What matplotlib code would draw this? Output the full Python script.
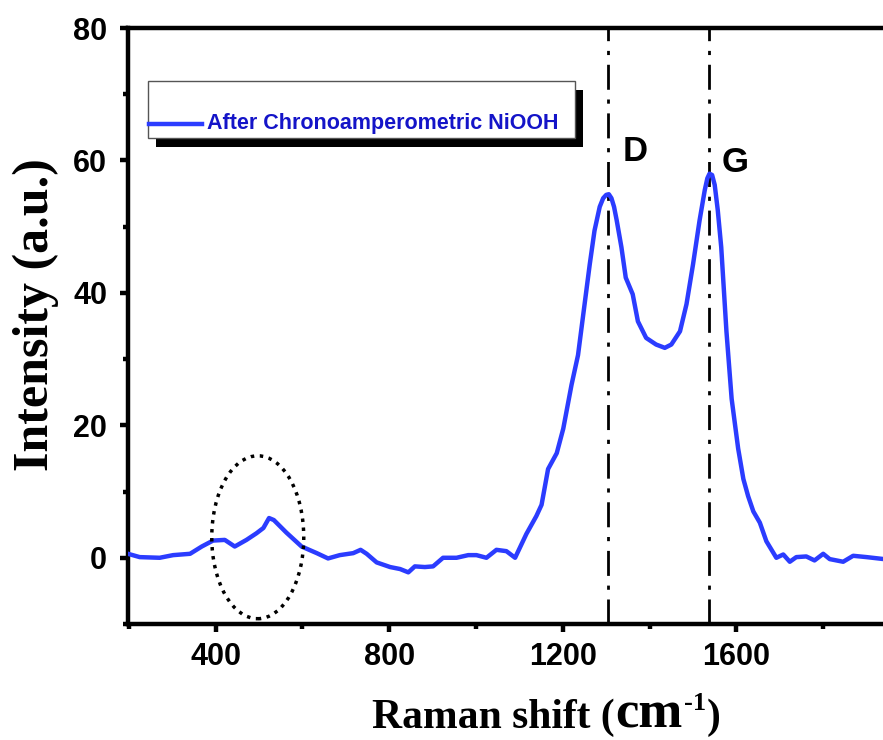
import matplotlib
matplotlib.use("Agg")
import matplotlib.pyplot as plt
from matplotlib.patches import Ellipse, Rectangle
from matplotlib.lines import Line2D
from matplotlib.ticker import MultipleLocator

# Raman spectrum
shift = [198, 225, 271, 302, 341, 368, 394, 421, 444, 471, 494, 510, 523, 534,
         563, 598, 633, 659, 686, 717, 734, 748, 771, 802, 825, 844, 859, 882,
         901, 924, 955, 982, 1001, 1024, 1047, 1070, 1090, 1116, 1139, 1151,
         1166, 1186, 1201, 1220, 1235, 1247, 1262, 1273, 1285, 1293, 1300, 1306,
         1312, 1318, 1324, 1335, 1345, 1361, 1373, 1392, 1415, 1435, 1450, 1470,
         1485, 1500, 1515, 1527, 1533, 1538, 1544, 1550, 1557, 1565, 1577, 1589,
         1604, 1616, 1627, 1639, 1654, 1669, 1692, 1708, 1723, 1738, 1761, 1780,
         1800, 1815, 1846, 1869, 1900, 1940]
intensity = [0.6, 0.1, 0.0, 0.4, 0.6, 1.7, 2.6, 2.7, 1.7, 2.7, 3.7, 4.5, 6.0, 5.7,
             3.8, 1.7, 0.7, -0.1, 0.4, 0.7, 1.2, 0.6, -0.7, -1.4, -1.7, -2.2, -1.3, -1.4,
             -1.3, 0.0, 0.0, 0.4, 0.4, 0.0, 1.2, 1.0, 0.0, 3.6, 6.3, 8.0,
             13.4, 15.8, 19.5, 26.1, 30.6, 36.7, 44.3, 49.4, 53.0, 54.3, 54.8, 54.9,
             54.3, 53.0, 51.0, 46.9, 42.3, 39.8, 35.7, 33.2, 32.2, 31.7, 32.2, 34.2,
             38.3, 44.3, 50.9, 55.5, 57.3, 58.0, 57.8, 56.3, 52.5, 46.9, 34.2, 24.0,
             16.5, 11.9, 9.3, 7.0, 5.3, 2.5, 0.0, 0.5, -0.6, 0.1, 0.2, -0.4,
             0.6, -0.2, -0.6, 0.3, 0.1, -0.2]

band_pos = [1305, 1536]
band_names = ["D", "G"]
band_label_xy = [(1338, 61.3), (1566, 59.7)]
legend_label = "After Chronoamperometric NiOOH"

blue = "#2b3cff"
W, H = 883, 740

fig = plt.figure(figsize=(W / 100, H / 100), dpi=100)
ax = fig.add_axes([128 / W, 116 / H, 759 / W, 596 / H])

ax.plot(shift, intensity, color=blue, lw=3.2, solid_joinstyle="round", zorder=3)
for xb in band_pos:
    ax.axvline(xb, color="black", lw=2.0, linestyle=(0, (9, 3.5, 1.5, 3.5)), zorder=2)
for name, (tx, ty) in zip(band_names, band_label_xy):
    ax.text(tx, ty, name, fontsize=25, fontweight="bold", family="Liberation Sans",
            ha="left", va="center")

ax.add_patch(Ellipse((497, 3.1), 212, 24.6, fill=False, edgecolor="black",
                     lw=2.5, linestyle=(0, (1, 1.6)), zorder=4))

ax.set_xlim(198, 1947)
ax.set_ylim(-10, 80)
ax.xaxis.set_major_locator(MultipleLocator(400))
ax.xaxis.set_minor_locator(MultipleLocator(200))
ax.yaxis.set_major_locator(MultipleLocator(20))
ax.yaxis.set_minor_locator(MultipleLocator(10))
ax.set_xticks([400, 800, 1200, 1600])

for s in ax.spines.values():
    s.set_linewidth(3.2)
ax.spines["right"].set_visible(False)
ax.tick_params(which="major", direction="out", length=6, width=3.2, pad=7)
ax.tick_params(axis="y", which="major", pad=9)
ax.tick_params(which="minor", direction="out", length=3.5, width=3.2)
ax.tick_params(top=False, right=False, which="both")
for lab in ax.get_xticklabels() + ax.get_yticklabels():
    lab.set_fontfamily("Liberation Sans")
    lab.set_fontweight("bold")
    lab.set_fontsize(22)

# legend box with a solid black drop shadow
fig.patches.append(Rectangle((156 / W, 1 - 147 / H), 427 / W, 57 / H,
                             transform=fig.transFigure, facecolor="black",
                             edgecolor="none", zorder=5))
fig.patches.append(Rectangle((148 / W, 1 - 138 / H), 427 / W, 57 / H,
                             transform=fig.transFigure, facecolor="white",
                             edgecolor="#555555", lw=1.0, zorder=6))
fig.lines.append(Line2D([149 / W, 202 / W], [1 - 124 / H] * 2, transform=fig.transFigure,
                        color=blue, lw=3.2, zorder=7))
fig.text(207 / W, 1 - 124 / H, legend_label, color="#1414c8", fontsize=15.5,
         fontweight="bold", family="Liberation Sans", ha="left", va="center", zorder=8)

# axis titles
fig.text(36 / W, 1 - 315 / H, "Intensity (a.u.)", rotation=90, ha="center", va="center",
         family="Liberation Serif", fontweight="bold", fontsize=36)

fig.canvas.draw()
r = fig.canvas.get_renderer()
parts = [("Raman shift (", 30, 0), ("cm", 38, 0), ("-1", 19, 18), (")", 30, 0)]
x0 = 372
for txt, size, rise in parts:
    t = fig.text(x0 / W, (H - 728 + rise) / H, txt, ha="left", va="baseline",
                 family="Liberation Serif", fontweight="bold", fontsize=size)
    x0 = t.get_window_extent(r).x1 + 1

fig.savefig("out.png", dpi=100)
